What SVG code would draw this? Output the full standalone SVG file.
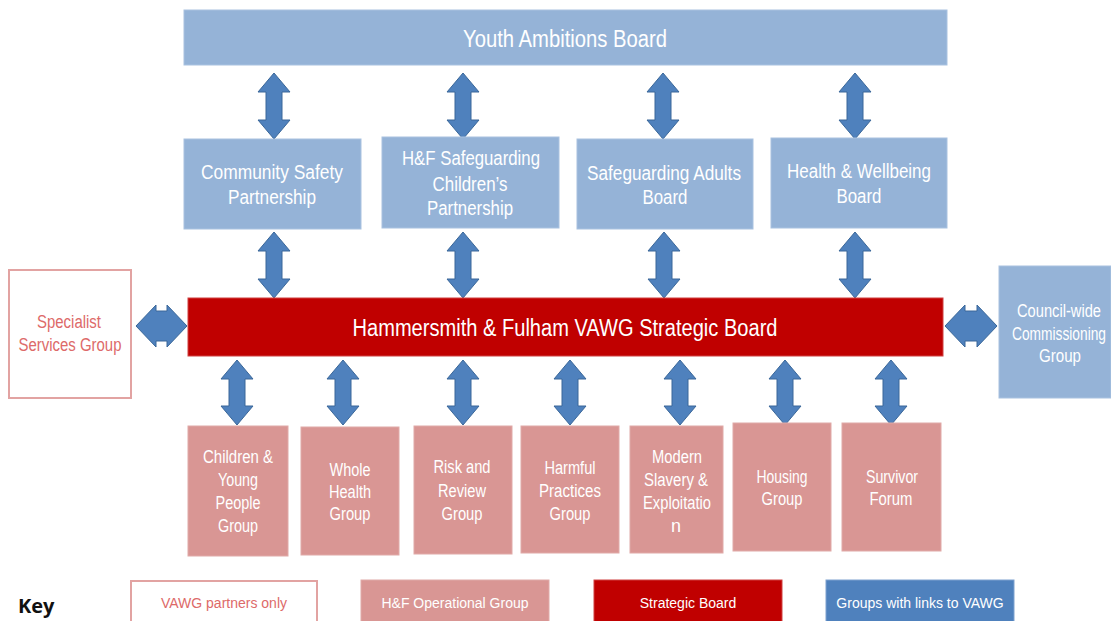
<svg xmlns="http://www.w3.org/2000/svg" width="1111" height="621" viewBox="0 0 1111 621">
<style>
text{font-family:"Liberation Sans Narrow","Liberation Sans",Arial,sans-serif;text-anchor:middle;fill:#fff}
.lb{fill:#95B3D7;stroke:#A9C2E0;stroke-width:1}
.red{fill:#C00000;stroke:#D04040;stroke-width:1}
.pk{fill:#D99694;stroke:#E0AAA8;stroke-width:1}
.wb{fill:#fff;stroke:#E2A3A2;stroke-width:2}
.kb{fill:#4F81BD;stroke:#7FA2CF;stroke-width:1}
.arr{fill:#4F81BD;stroke:#3A6799;stroke-width:1}
.t22{font-size:23px}
.t18{font-size:20px}
.t16{font-size:18px}
.t14{font-size:14px}
.rt{fill:#DD6A69}
</style>
<g id="connectors">
<path class="arr" d="M274,73 L290,92 L282,92 L282,120 L290,120 L274,139 L258,120 L266,120 L266,92 L258,92 Z"/>
<path class="arr" d="M463,73 L479,92 L471,92 L471,120 L479,120 L463,139 L447,120 L455,120 L455,92 L447,92 Z"/>
<path class="arr" d="M663,73 L679,92 L671,92 L671,120 L679,120 L663,139 L647,120 L655,120 L655,92 L647,92 Z"/>
<path class="arr" d="M855,73 L871,92 L863,92 L863,120 L871,120 L855,139 L839,120 L847,120 L847,92 L839,92 Z"/>
<path class="arr" d="M274,232 L290,251 L282,251 L282,279 L290,279 L274,298 L258,279 L266,279 L266,251 L258,251 Z"/>
<path class="arr" d="M463,232 L479,251 L471,251 L471,279 L479,279 L463,298 L447,279 L455,279 L455,251 L447,251 Z"/>
<path class="arr" d="M664,232 L680,251 L672,251 L672,279 L680,279 L664,298 L648,279 L656,279 L656,251 L648,251 Z"/>
<path class="arr" d="M855,232 L871,251 L863,251 L863,279 L871,279 L855,298 L839,279 L847,279 L847,251 L839,251 Z"/>
<path class="arr" d="M237,360 L253,379 L245,379 L245,406 L253,406 L237,425 L221,406 L229,406 L229,379 L221,379 Z"/>
<path class="arr" d="M343,360 L359,379 L351,379 L351,406 L359,406 L343,425 L327,406 L335,406 L335,379 L327,379 Z"/>
<path class="arr" d="M463,360 L479,379 L471,379 L471,406 L479,406 L463,425 L447,406 L455,406 L455,379 L447,379 Z"/>
<path class="arr" d="M570,360 L586,379 L578,379 L578,406 L586,406 L570,425 L554,406 L562,406 L562,379 L554,379 Z"/>
<path class="arr" d="M680,360 L696,379 L688,379 L688,406 L696,406 L680,425 L664,406 L672,406 L672,379 L664,379 Z"/>
<path class="arr" d="M785,360 L801,379 L793,379 L793,406 L801,406 L785,425 L769,406 L777,406 L777,379 L769,379 Z"/>
<path class="arr" d="M891,360 L907,379 L899,379 L899,406 L907,406 L891,425 L875,406 L883,406 L883,379 L875,379 Z"/>
<path class="arr" d="M136,326 L156,305 L156,311 L167,311 L167,305 L187,326 L167,347 L167,341 L156,341 L156,347 Z"/>
<path class="arr" d="M945,326 L965,305 L965,311 L977,311 L977,305 L997,326 L977,347 L977,341 L965,341 L965,347 Z"/>
</g>
<g id="youth-ambitions-board">
<rect class="lb" x="184" y="10" width="763" height="55"/>
<text class="t22" x="565" y="47" textLength="204" lengthAdjust="spacingAndGlyphs">Youth Ambitions Board</text>
</g>
<g id="community-safety-partnership">
<rect class="lb" x="184" y="139" width="177" height="90"/>
<text class="t18" x="272" y="179" textLength="142" lengthAdjust="spacingAndGlyphs">Community  Safety</text>
<text class="t18" x="272" y="204" textLength="88" lengthAdjust="spacingAndGlyphs">Partnership</text>
</g>
<g id="safeguarding-childrens-partnership">
<rect class="lb" x="382" y="137" width="177" height="91"/>
<text class="t18" x="471" y="165" textLength="138" lengthAdjust="spacingAndGlyphs">H&amp;F Safeguarding</text>
<text class="t18" x="470" y="191" textLength="75" lengthAdjust="spacingAndGlyphs">Children’s</text>
<text class="t18" x="470" y="215" textLength="86" lengthAdjust="spacingAndGlyphs">Partnership</text>
</g>
<g id="safeguarding-adults-board">
<rect class="lb" x="577" y="139" width="176" height="90"/>
<text class="t18" x="664" y="180" textLength="154" lengthAdjust="spacingAndGlyphs">Safeguarding  Adults</text>
<text class="t18" x="665" y="204" textLength="45" lengthAdjust="spacingAndGlyphs">Board</text>
</g>
<g id="health-wellbeing-board">
<rect class="lb" x="771" y="138" width="176" height="90"/>
<text class="t18" x="859" y="178" textLength="144" lengthAdjust="spacingAndGlyphs">Health  &amp;  Wellbeing</text>
<text class="t18" x="859" y="203" textLength="45" lengthAdjust="spacingAndGlyphs">Board</text>
</g>
<g id="vawg-strategic-board">
<rect class="red" x="188" y="298" width="755" height="58"/>
<text class="t22" x="565" y="336" textLength="425" lengthAdjust="spacingAndGlyphs">Hammersmith &amp; Fulham VAWG Strategic Board</text>
</g>
<g id="specialist-services-group">
<rect class="wb" x="9" y="270" width="122" height="128"/>
<text class="t16 rt" x="69" y="328" textLength="64" lengthAdjust="spacingAndGlyphs">Specialist</text>
<text class="t16 rt" x="70" y="351" textLength="103" lengthAdjust="spacingAndGlyphs">Services Group</text>
</g>
<g id="council-wide-commissioning-group">
<rect class="lb" x="999" y="266" width="112" height="132"/>
<text class="t16" x="1059" y="317" textLength="84" lengthAdjust="spacingAndGlyphs">Council-wide</text>
<text class="t16" x="1059" y="340" textLength="94" lengthAdjust="spacingAndGlyphs">Commissioning</text>
<text class="t16" x="1060" y="362" textLength="42" lengthAdjust="spacingAndGlyphs">Group</text>
</g>
<g id="children-young-people-group">
<rect class="pk" x="188" y="426" width="100" height="130"/>
<text class="t16" x="238" y="463" textLength="70" lengthAdjust="spacingAndGlyphs">Children  &amp;</text>
<text class="t16" x="238" y="486" textLength="40" lengthAdjust="spacingAndGlyphs">Young</text>
<text class="t16" x="238" y="509" textLength="45" lengthAdjust="spacingAndGlyphs">People</text>
<text class="t16" x="238" y="532" textLength="40" lengthAdjust="spacingAndGlyphs">Group</text>
</g>
<g id="whole-health-group">
<rect class="pk" x="301" y="427" width="98" height="128"/>
<text class="t16" x="350" y="476" textLength="41" lengthAdjust="spacingAndGlyphs">Whole</text>
<text class="t16" x="350" y="498" textLength="42" lengthAdjust="spacingAndGlyphs">Health</text>
<text class="t16" x="350" y="520" textLength="41" lengthAdjust="spacingAndGlyphs">Group</text>
</g>
<g id="risk-review-group">
<rect class="pk" x="414" y="426" width="98" height="128"/>
<text class="t16" x="462" y="473" textLength="57" lengthAdjust="spacingAndGlyphs">Risk and</text>
<text class="t16" x="462" y="497" textLength="48" lengthAdjust="spacingAndGlyphs">Review</text>
<text class="t16" x="462" y="520" textLength="41" lengthAdjust="spacingAndGlyphs">Group</text>
</g>
<g id="harmful-practices-group">
<rect class="pk" x="521" y="426" width="98" height="127"/>
<text class="t16" x="570" y="474" textLength="51" lengthAdjust="spacingAndGlyphs">Harmful</text>
<text class="t16" x="570" y="497" textLength="62" lengthAdjust="spacingAndGlyphs">Practices</text>
<text class="t16" x="570" y="520" textLength="41" lengthAdjust="spacingAndGlyphs">Group</text>
</g>
<g id="modern-slavery-exploitation">
<rect class="pk" x="630" y="426" width="93" height="127"/>
<text class="t16" x="677" y="463" textLength="50" lengthAdjust="spacingAndGlyphs">Modern</text>
<text class="t16" x="676" y="486" textLength="64" lengthAdjust="spacingAndGlyphs">Slavery  &amp;</text>
<text class="t16" x="677" y="509" textLength="68" lengthAdjust="spacingAndGlyphs">Exploitatio</text>
<text class="t16" x="676" y="532">n</text>
</g>
<g id="housing-group">
<rect class="pk" x="733" y="423" width="98" height="128"/>
<text class="t16" x="782" y="483" textLength="51" lengthAdjust="spacingAndGlyphs">Housing</text>
<text class="t16" x="782" y="505" textLength="41" lengthAdjust="spacingAndGlyphs">Group</text>
</g>
<g id="survivor-forum">
<rect class="pk" x="842" y="423" width="99" height="128"/>
<text class="t16" x="892" y="483" textLength="52" lengthAdjust="spacingAndGlyphs">Survivor</text>
<text class="t16" x="891" y="505" textLength="43" lengthAdjust="spacingAndGlyphs">Forum</text>
</g>
<g id="key">
<text x="18" y="613" style="text-anchor:start;fill:#111;font-family:'Open Sans','Liberation Sans',sans-serif;font-weight:bold;font-size:20px">Key</text>
<rect class="wb" x="131" y="581" width="186" height="45"/>
<text class="t14 rt" x="224" y="608">VAWG partners only</text>
<rect class="pk" x="361" y="580" width="188" height="46"/>
<text class="t14" x="455" y="608">H&amp;F Operational Group</text>
<rect class="red" x="594" y="580" width="188" height="46"/>
<text class="t14" x="688" y="608">Strategic Board</text>
<rect class="kb" x="826" y="580" width="188" height="46"/>
<text class="t14" x="920" y="608">Groups with links to VAWG</text>
</g>
</svg>
